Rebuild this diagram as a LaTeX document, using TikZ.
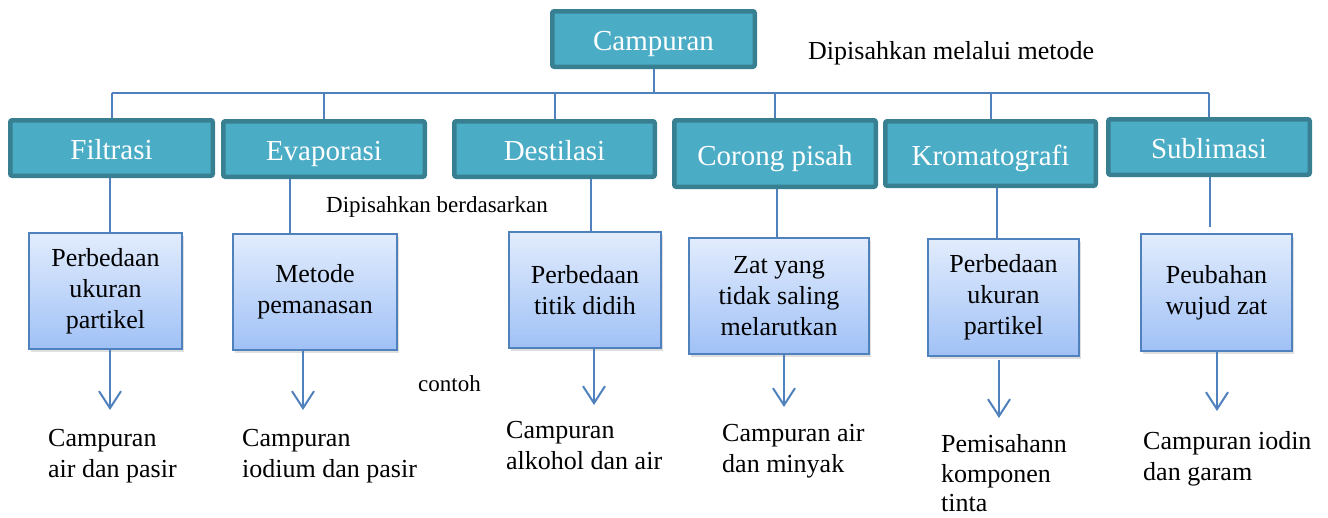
\documentclass[tikz,border=0pt]{standalone}
\usepackage{fontspec}
\setmainfont{Liberation Serif}
\usetikzlibrary{arrows.meta,shadows}
\definecolor{tealfill}{RGB}{75,172,198}
\definecolor{tealedge}{RGB}{56,128,145}
\definecolor{lineblue}{RGB}{79,129,189}
\definecolor{boxtop}{RGB}{226,236,253}
\definecolor{boxbot}{RGB}{160,193,246}
\begin{document}
\begin{tikzpicture}[x=1pt,y=-1pt,
  headbox/.style={draw=tealedge, fill=tealfill, line width=4.5pt, rounded corners=2pt,
    text=white, font=\fontsize{29}{34}\selectfont, inner sep=0pt,
    text height=23pt, text depth=0pt},
  infobox/.style={draw=lineblue, line width=2pt, top color=boxtop, bottom color=boxbot,
    align=center, font=\fontsize{26}{31}\selectfont, inner sep=0pt,
    drop shadow={opacity=0.25, shadow xshift=1.5pt, shadow yshift=-2.5pt}},
  link/.style={draw=lineblue, line width=2pt},
  arr/.style={link, -{Straight Barb[length=17pt,width=22pt,line width=2pt]}},
  note/.style={font=\fontsize{26}{30.5}\selectfont, align=left, inner sep=0pt, anchor=north west},
  label/.style={inner sep=0pt, anchor=base west}
]
\useasboundingbox (0,0) rectangle (1328,517);

% top
\node[headbox, minimum width=202.5pt, minimum height=55.5pt] (T) at (653.5,39) {Campuran};

% methods
\node[headbox, minimum width=202.5pt, minimum height=55.5pt] (B1) at (111.5,148) {Filtrasi};
\node[headbox, minimum width=201.5pt, minimum height=55.5pt] (B2) at (324,149) {Evaporasi};
\node[headbox, minimum width=200.5pt, minimum height=55.5pt] (B3) at (554.5,149) {Destilasi};
\node[headbox, minimum width=201.5pt, minimum height=66.5pt] (B4) at (775,153.5) {Corong pisah};
\node[headbox, minimum width=210.5pt, minimum height=64.5pt] (B5) at (990.5,153.5) {Kromatografi};
\node[headbox, minimum width=201.5pt, minimum height=55.5pt] (B6) at (1209,147) {Sublimasi};

% basis boxes
\node[infobox, minimum width=153pt, minimum height=116pt] (L1) at (105.5,291) {Perbedaan\\ukuran\\partikel};
\node[infobox, minimum width=164pt, minimum height=116pt] (L2) at (315,292) {Metode\\pemanasan};
\node[infobox, minimum width=152pt, minimum height=116pt] (L3) at (585,290) {Perbedaan\\titik didih};
\node[infobox, minimum width=180pt, minimum height=116pt] (L4) at (779,296) {Zat yang\\tidak saling\\melarutkan};
\node[infobox, minimum width=151pt, minimum height=117pt] (L5) at (1003.5,297.5) {Perbedaan\\ukuran\\partikel};
\node[infobox, minimum width=151pt, minimum height=117pt] (L6) at (1216.5,292.5) {Peubahan\\wujud zat};

% examples
\node[note] (E1) at (48,429.3) {Campuran\\air dan pasir};
\node[note] (E2) at (242,429.3) {Campuran\\iodium dan pasir};
\node[note] (E3) at (506,421.3) {Campuran\\alkohol dan air};
\node[note] (E4) at (722,424.3) {Campuran air\\dan minyak};
\node[note, font=\fontsize{26}{29.5}\selectfont] (E5) at (941,434.5) {Pemisahann\\komponen\\tinta};
\node[note] (E6) at (1143,431.3) {Campuran iodin\\dan garam};

% free labels
\node[label, font=\fontsize{26}{30}\selectfont] (M) at (808,59) {Dipisahkan melalui metode};
\node[label, font=\fontsize{23}{27}\selectfont] (D) at (326,212) {Dipisahkan berdasarkan};
\node[label, font=\fontsize{23}{27}\selectfont] (C) at (418,391) {contoh};

% tree connectors
\coordinate (busL) at (111.5,93);
\coordinate (busR) at (1209,93);
\draw[link] (T.south) -- (T.south |- busL);
\draw[link] (busL) -- (busR);
\foreach \b in {B1,B2,B3,B4,B5,B6}{
  \draw[link] (\b.north) -- (\b.north |- busL);
}

% method -> basis
\draw[link] (110,0 |- B1.south) -- (110,0 |- L1.north);
\draw[link] (290,0 |- B2.south) -- (290,0 |- L2.north);
\draw[link] (591,0 |- B3.south) -- (591,0 |- L3.north);
\draw[link] (777,0 |- B4.south) -- (777,0 |- L4.north);
\draw[link] (997,0 |- B5.south) -- (997,0 |- L5.north);
\draw[link, shorten >=6pt] (1210,0 |- B6.south) -- (1210,0 |- L6.north);

% basis -> example arrows
\coordinate (t1) at (110,410);
\coordinate (t2) at (303,410);
\coordinate (t3) at (594,405);
\coordinate (t4) at (784,407);
\coordinate (t5) at (999,418);
\coordinate (t6) at (1217,411);
\draw[arr] (t1 |- L1.south) -- (t1);
\draw[arr] (t2 |- L2.south) -- (t2);
\draw[arr] (t3 |- L3.south) -- (t3);
\draw[arr] (t4 |- L4.south) -- (t4);
\draw[arr, shorten <=3pt] (t5 |- L5.south) -- (t5);
\draw[arr] (t6 |- L6.south) -- (t6);
\end{tikzpicture}
\end{document}
